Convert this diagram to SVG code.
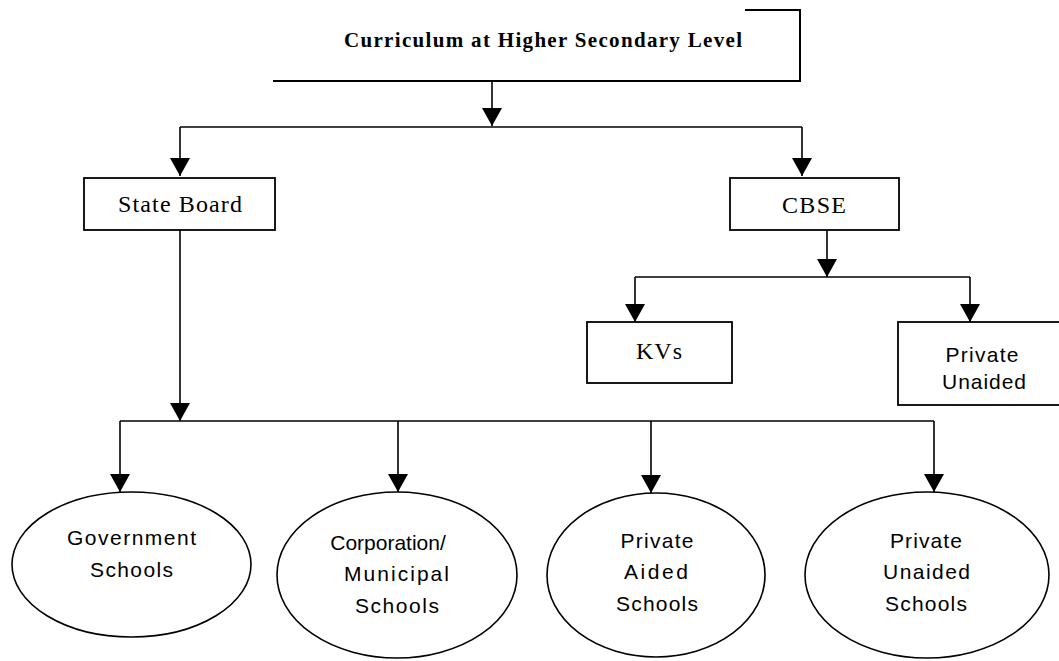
<svg xmlns="http://www.w3.org/2000/svg" width="1059" height="661" viewBox="0 0 1059 661">
<defs>
<marker id="ah" markerUnits="userSpaceOnUse" viewBox="0 0 18 20" markerWidth="18" markerHeight="20" refX="18" refY="10" orient="auto">
<path d="M0,0 L18,10 L0,20 z" fill="#000"/>
</marker>
<style>
.ln{fill:none;stroke:#000;stroke-width:1.6}
.bx{fill:#fff;stroke:#000;stroke-width:1.8}
.el{fill:#fff;stroke:#000;stroke-width:1.6}
.sf{font-family:"Liberation Serif","Times New Roman",serif;font-size:24px;fill:#000;text-anchor:middle}
.ss{font-family:"Liberation Sans",Arial,sans-serif;font-size:21px;fill:#000;text-anchor:middle}
.tt{font-family:"Liberation Serif","Times New Roman",serif;font-size:21px;font-weight:bold;fill:#000;text-anchor:middle}
</style>
</defs>
<rect width="1059" height="661" fill="#fff"/>
<g id="connectors">
<path class="ln" d="M492,81 V126" marker-end="url(#ah)"/>
<path class="ln" d="M180,127 H802"/>
<path class="ln" d="M180,127 V176" marker-end="url(#ah)"/>
<path class="ln" d="M802,127 V176" marker-end="url(#ah)"/>
<path class="ln" d="M827,230 V277" marker-end="url(#ah)"/>
<path class="ln" d="M635,277 H970"/>
<path class="ln" d="M635,277 V322" marker-end="url(#ah)"/>
<path class="ln" d="M970,277 V322" marker-end="url(#ah)"/>
<path class="ln" d="M180,230 V421" marker-end="url(#ah)"/>
<path class="ln" d="M120,421 H934"/>
<path class="ln" d="M120,421 V492" marker-end="url(#ah)"/>
<path class="ln" d="M398,421 V492" marker-end="url(#ah)"/>
<path class="ln" d="M651,421 V493" marker-end="url(#ah)"/>
<path class="ln" d="M934,421 V492" marker-end="url(#ah)"/>
</g>
<g id="title">
<path d="M745,10 H800 V81 H273" fill="none" stroke="#000" stroke-width="2"/>
<text class="tt" x="543" y="47" textLength="398">Curriculum at Higher Secondary Level</text>
</g>
<g id="state-board">
<rect class="bx" x="84" y="178" width="191" height="52"/>
<text class="sf" x="180" y="212" textLength="124">State Board</text>
</g>
<g id="cbse">
<rect class="bx" x="730" y="178" width="169" height="52"/>
<text class="sf" x="814" y="213" textLength="64">CBSE</text>
</g>
<g id="kvs">
<rect class="bx" x="587" y="322" width="145" height="61"/>
<text class="sf" x="659" y="359" textLength="46">KVs</text>
</g>
<g id="private-unaided">
<rect class="bx" x="898" y="322" width="170" height="83"/>
<text class="ss" x="982" y="362" textLength="73">Private</text>
<text class="ss" x="984" y="389" textLength="84">Unaided</text>
</g>
<g id="government-schools">
<ellipse class="el" cx="131.5" cy="564.5" rx="119.5" ry="72.5"/>
<text class="ss" x="131.5" y="545" textLength="129">Government</text>
<text class="ss" x="131.5" y="577" textLength="83">Schools</text>
</g>
<g id="corporation-schools">
<ellipse class="el" cx="397" cy="575" rx="120" ry="83"/>
<text class="ss" x="388" y="550">Corporation/</text>
<text class="ss" x="396.5" y="581" textLength="105">Municipal</text>
<text class="ss" x="397" y="613" textLength="84">Schools</text>
</g>
<g id="private-aided-schools">
<ellipse class="el" cx="656" cy="575" rx="109" ry="82"/>
<text class="ss" x="657" y="548" textLength="73">Private</text>
<text class="ss" x="656" y="579" textLength="64">Aided</text>
<text class="ss" x="657" y="611" textLength="82">Schools</text>
</g>
<g id="private-unaided-schools">
<ellipse class="el" cx="927" cy="575" rx="122" ry="83"/>
<text class="ss" x="926" y="548" textLength="72">Private</text>
<text class="ss" x="926.5" y="579" textLength="87">Unaided</text>
<text class="ss" x="926" y="611" textLength="82">Schools</text>
</g>
</svg>
